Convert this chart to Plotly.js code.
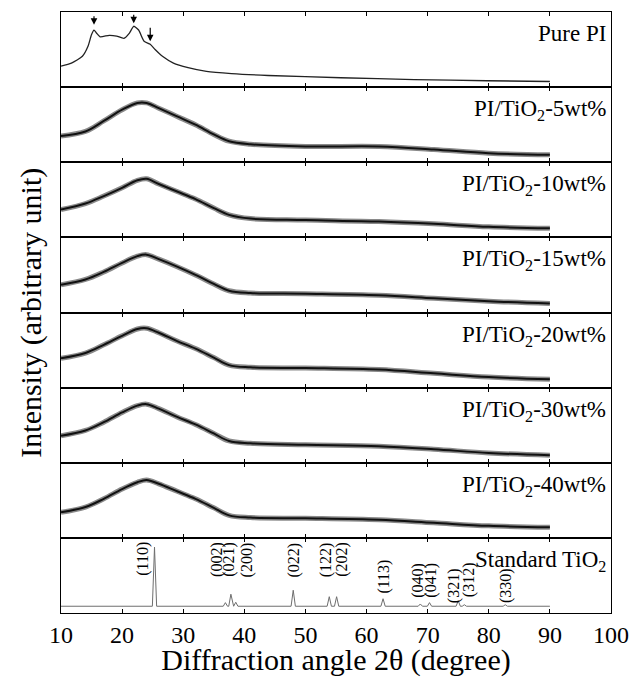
<!DOCTYPE html>
<html><head><meta charset="utf-8">
<script src="https://cdn.plot.ly/plotly-3.0.1.min.js"></script>
<style>html,body{margin:0;padding:0;background:#fff}#chart{width:633px;height:677px}</style>
</head><body><div id="chart"></div>
<script>
// ---------------- data ----------------
const panelNames = ['Pure PI', 'PI/TiO<sub>2</sub>-5wt%', 'PI/TiO<sub>2</sub>-10wt%', 'PI/TiO<sub>2</sub>-15wt%',
  'PI/TiO<sub>2</sub>-20wt%', 'PI/TiO<sub>2</sub>-30wt%', 'PI/TiO<sub>2</sub>-40wt%', 'Standard TiO<sub>2</sub>'];

// Pure PI pattern (2θ, intensity a.u.)
const pureX = [10, 11.7, 13.5, 14.4, 15.0, 15.4, 15.8, 16.4, 17.9, 19.1, 20.3, 21.2, 21.9, 22.7, 23.6, 24.6, 25.4, 26.6, 28.4, 30.8, 33.8, 37.9, 43.9, 55.8, 67.8, 79.7, 90];
const pureY = [28, 32, 41, 54, 70, 76, 72, 67, 69, 68, 65, 72, 81, 76, 61, 57, 50, 41, 32, 26, 21, 18, 15.5, 12.5, 10, 8.5, 7.5];

// PI/TiO2 composites, common 2θ grid
const compX  = [10, 14, 17, 20, 22.5, 24, 26, 29, 32, 35, 37.5, 41, 50, 62, 71, 80, 90];
const comp5  = [35, 41, 55, 70, 79, 79, 72, 61, 50, 37, 28, 24, 21, 21, 17, 12, 10];
const comp10 = [37, 45, 55, 66, 76, 78, 71, 61, 51, 39, 30, 25, 23, 21, 18, 14, 12];
const comp15 = [37, 44, 54, 66, 75, 77, 71, 61, 50, 38, 29, 26, 25, 23, 19, 15, 12];
const comp20 = [39, 46, 57, 69, 78, 79, 73, 62, 52, 40, 30, 27, 26, 24, 19, 14, 11];
const comp30 = [36, 43, 54, 67, 76, 78, 72, 61, 51, 39, 29, 26, 24, 22, 18, 13, 10];
const comp40 = [34, 41, 52, 65, 74, 77, 72, 62, 52, 40, 30, 27, 26, 24, 20, 16, 14];

// Standard TiO2 reference peaks
const tiPos = [25.3, 36.9, 37.8, 38.6, 48.0, 53.9, 55.1, 62.7, 68.8, 70.3, 75.0, 76.0, 82.7];
const tiInt = [78.7, 4.8, 16, 5.3, 21.3, 12.7, 12.7, 10, 3, 4.8, 7.3, 2, 2];
const tiHkl = ['(110)', '(002)', '(021)', '(200)', '(022)', '(122)', '(202)', '(113)', '(040)', '(041)', '(321)', '(312)', '(330)'];
const tiBase = 9;
const tiRange = [10, 90];

// Pure PI marked peaks
const arrowPeaks = [15.4, 21.9, 24.6];

// ---------------- layout helpers ----------------
const FONT = 'Liberation Serif, Times New Roman, Times, serif';
const N = 8;
const dom = i => [1 - (i + 1) / N, 1 - i / N];
const ax = i => (i === 0 ? '' : String(i + 1));

const traces = [];
function addComposite(i, ys) {
  traces.push({x: compX, y: ys, xaxis: 'x' + ax(i), yaxis: 'y' + ax(i), mode: 'lines',
    line: {color: '#8a8a8a', width: 5, shape: 'spline', smoothing: 1}, hoverinfo: 'skip', showlegend: false});
  traces.push({x: compX, y: ys, xaxis: 'x' + ax(i), yaxis: 'y' + ax(i), mode: 'lines',
    line: {color: '#111', width: 2, shape: 'spline', smoothing: 1}, showlegend: false});
}
traces.push({x: pureX, y: pureY, xaxis: 'x', yaxis: 'y', mode: 'lines',
  line: {color: '#222', width: 1.3, shape: 'spline', smoothing: 0.6}, showlegend: false});
[comp5, comp10, comp15, comp20, comp30, comp40].forEach((ys, k) => addComposite(k + 1, ys));

// stick-like profile for the standard pattern
const HW = 0.35;
const sx = [tiRange[0]], sy = [tiBase];
tiPos.forEach((p, k) => { sx.push(p - HW, p, p + HW); sy.push(tiBase, tiBase + tiInt[k], tiBase); });
sx.push(tiRange[1]); sy.push(tiBase);
traces.push({x: sx, y: sy, xaxis: 'x8', yaxis: 'y8', mode: 'lines',
  line: {color: '#6e6e6e', width: 1}, showlegend: false});

const layout = {
  width: 633, height: 677,
  margin: {l: 61, r: 22, t: 12, b: 64},
  paper_bgcolor: '#fff', plot_bgcolor: '#fff',
  font: {family: FONT, color: '#000'},
  showlegend: false,
  annotations: [],
};
for (let i = 0; i < N; i++) {
  layout['xaxis' + ax(i)] = {
    range: [10, 100], tick0: 10, dtick: 10, anchor: 'y' + ax(i),
    matches: i === 0 ? undefined : 'x',
    ticks: 'inside', ticklen: 4, tickwidth: 1, tickcolor: '#000',
    showline: true, linecolor: '#000', linewidth: 1, mirror: 'ticks',
    showgrid: false, zeroline: false,
    showticklabels: i === N - 1,
    tickfont: {family: FONT, size: 24, color: '#000'},
    title: i === N - 1 ? {text: 'Diffraction angle 2θ (degree)', font: {family: FONT, size: 30, color: '#000'}, standoff: 7} : undefined,
  };
  layout['yaxis' + ax(i)] = {
    domain: dom(i), range: [0, 100], anchor: 'x' + ax(i),
    showline: true, linecolor: '#000', linewidth: 1, mirror: true,
    ticks: '', showticklabels: false, showgrid: false, zeroline: false,
  };
  layout.annotations.push({
    text: panelNames[i], xref: 'paper', yref: 'paper', x: 1, y: dom(i)[1],
    xanchor: 'right', yanchor: 'top', xshift: -3, yshift: -7, showarrow: false,
    font: {family: FONT, size: 23, color: '#000'},
  });
}
// y-axis title
layout.annotations.push({
  text: 'Intensity (arbitrary unit)', xref: 'paper', yref: 'paper', x: -0.056, y: 0.5,
  xanchor: 'center', yanchor: 'middle', textangle: -90, showarrow: false,
  font: {family: FONT, size: 30, color: '#000'},
});
// arrows over Pure PI peaks
const arrowTip = [83, 85, 61];
const arrowLen = [10, 10, 15];
arrowPeaks.forEach((p, k) => layout.annotations.push({
  x: p, y: arrowTip[k], xref: 'x', yref: 'y', text: '', showarrow: true,
  ax: 0, ay: -arrowLen[k], arrowhead: 2, arrowsize: 1.1, arrowwidth: 1.2, arrowcolor: '#000',
}));
// hkl labels on the standard pattern
const labelX = [23.4, 35.4, 37.5, 40.4, 48.1, 53.3, 56.0, 62.8, 68.4, 70.5, 74.3, 76.8, 82.8];
const labelY = [72, 71, 71, 71, 71, 71, 71, 48, 44, 44, 37, 44, 37];
tiHkl.forEach((t, k) => layout.annotations.push({
  text: t, x: labelX[k], y: labelY[k], xref: 'x8', yref: 'y8', textangle: -90,
  xanchor: 'center', yanchor: 'middle', showarrow: false,
  font: {family: FONT, size: 16, color: '#000'},
}));

Plotly.newPlot('chart', traces, layout, {displayModeBar: false, staticPlot: true});
</script>
</body></html>
